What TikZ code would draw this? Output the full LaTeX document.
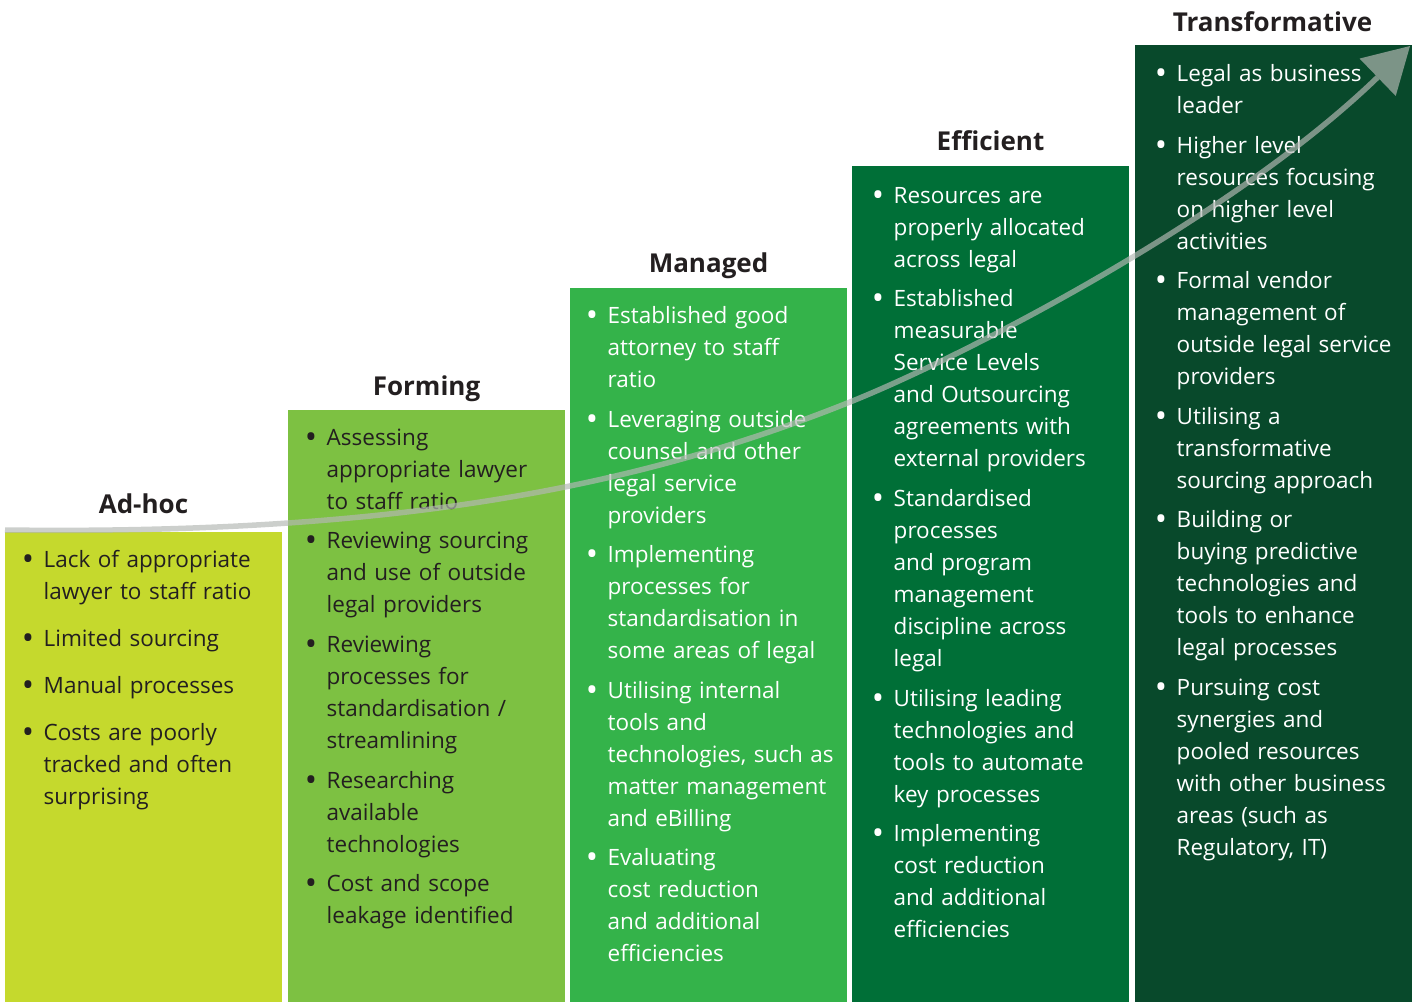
\documentclass[tikz,border=0pt]{standalone}
\usepackage{fontspec}
\setmainfont{Open Sans}
\usetikzlibrary{arrows.meta}
\definecolor{cAdhoc}{HTML}{C5D92D}
\definecolor{cForming}{HTML}{7DC142}
\definecolor{cManaged}{HTML}{34B34A}
\definecolor{cEfficient}{HTML}{006F37}
\definecolor{cTransf}{HTML}{08492B}
\definecolor{cDark}{HTML}{231F20}
\definecolor{cArrow}{HTML}{B4B8B4}
\tikzset{
  stagebox/.style={draw=none, inner sep=0pt, anchor=north west, minimum width=277pt},
  stagetitle/.style={anchor=base, inner sep=0pt, text=cDark, font=\fontsize{26}{30}\selectfont\bfseries},
  itemtext/.style={anchor=base west, inner sep=0pt, text width=270pt, align=left, font=\fontsize{22.5}{32}\selectfont},
  itembullet/.style={anchor=base, inner sep=0pt, font=\fontsize{22.5}{32}\selectfont},
  growth/.style={line width=5.5pt, draw=cArrow, -{Triangle[length=45pt,width=52pt,line width=0pt]}}
}
\newcommand\stageitem[5]{% name, bullet x, baseline y, colour, text
  \node[itembullet, text=#4] (#1b) at (#2,#3) {\raisebox{-3.6pt}{\scalebox{1.45}{\textbullet}}};
  \node[itemtext, text=#4] (#1) at (#2+15.5,#3) {#5};}
\begin{document}
\begin{tikzpicture}[x=1pt,y=-1pt]
\useasboundingbox (0,0) rectangle (1416,1002);
% boxes
\node[stagebox, fill=cAdhoc, minimum height=470pt] (adhoc) at (5,532) {};
\node[stagebox, fill=cForming, minimum height=592pt] (forming) at (288,410) {};
\node[stagebox, fill=cManaged, minimum height=714pt] (managed) at (570,288) {};
\node[stagebox, fill=cEfficient, minimum height=836pt] (efficient) at (852,166) {};
\node[stagebox, fill=cTransf, minimum height=957pt] (transf) at (1135,45) {};
% titles
\node[stagetitle] (t1) at (143.5,513) {Ad-hoc};
\node[stagetitle] (t2) at (426.5,395) {Forming};
\node[stagetitle] (t3) at (708.5,272) {Managed};
\node[stagetitle] (t4) at (990.5,150) {Efficient};
\node[stagetitle] (t5) at (1272.5,31) {Transformative};
% Ad-hoc
\stageitem{a1}{28}{567}{cDark}{Lack of appropriate\\lawyer to staff ratio}
\stageitem{a2}{28}{646}{cDark}{Limited sourcing}
\stageitem{a3}{28}{693}{cDark}{Manual processes}
\stageitem{a4}{28}{740}{cDark}{Costs are poorly\\tracked and often\\surprising}
% Forming
\stageitem{f1}{311}{445}{cDark}{Assessing\\appropriate lawyer\\to staff ratio}
\stageitem{f2}{311}{548}{cDark}{Reviewing sourcing\\and use of outside\\legal providers}
\stageitem{f3}{311}{652}{cDark}{Reviewing\\processes for\\standardisation /\\streamlining}
\stageitem{f4}{311}{788}{cDark}{Researching\\available\\technologies}
\stageitem{f5}{311}{891}{cDark}{Cost and scope\\leakage identified}
% Managed
\stageitem{m1}{592}{323}{white}{Established good\\attorney to staff\\ratio}
\stageitem{m2}{592}{427}{white}{Leveraging outside\\counsel and other\\legal service\\providers}
\stageitem{m3}{592}{562}{white}{Implementing\\processes for\\standardisation in\\some areas of legal}
\stageitem{m4}{592}{698}{white}{Utilising internal\\tools and\\technologies, such as\\matter management\\and eBilling}
\stageitem{m5}{592}{865}{white}{Evaluating\\cost reduction\\and additional\\efficiencies}
% Efficient
\stageitem{e1}{878}{203}{white}{Resources are\\properly allocated\\across legal}
\stageitem{e2}{878}{306}{white}{Established\\measurable\\Service Levels\\and Outsourcing\\agreements with\\external providers}
\stageitem{e3}{878}{506}{white}{Standardised\\processes\\and program\\management\\discipline across\\legal}
\stageitem{e4}{878}{706}{white}{Utilising leading\\technologies and\\tools to automate\\key processes}
\stageitem{e5}{878}{841}{white}{Implementing\\cost reduction\\and additional\\efficiencies}
% Transformative
\stageitem{r1}{1161}{81}{white}{Legal as business\\leader}
\stageitem{r2}{1161}{153}{white}{Higher level\\resources focusing\\on higher level\\activities}
\stageitem{r3}{1161}{288}{white}{Formal vendor\\management of\\outside legal service\\providers}
\stageitem{r4}{1161}{424}{white}{Utilising a\\transformative\\sourcing approach}
\stageitem{r5}{1161}{527}{white}{Building or\\buying predictive\\technologies and\\tools to enhance\\legal processes}
\stageitem{r6}{1161}{695}{white}{Pursuing cost\\synergies and\\pooled resources\\with other business\\areas (such as\\Regulatory, IT)}
% growth arrow
\coordinate (arrowstart) at (5,530);
\coordinate (arrowmid) at (850,402);
\coordinate (arrowend) at (1410,46);
\begin{scope}[transparency group, opacity=0.68]
\draw[growth] (arrowstart) .. controls (400,535) and (640,486) .. (arrowmid)
  .. controls (960,358) and (1230,220) .. (arrowend);
\end{scope}
\end{tikzpicture}
\end{document}
